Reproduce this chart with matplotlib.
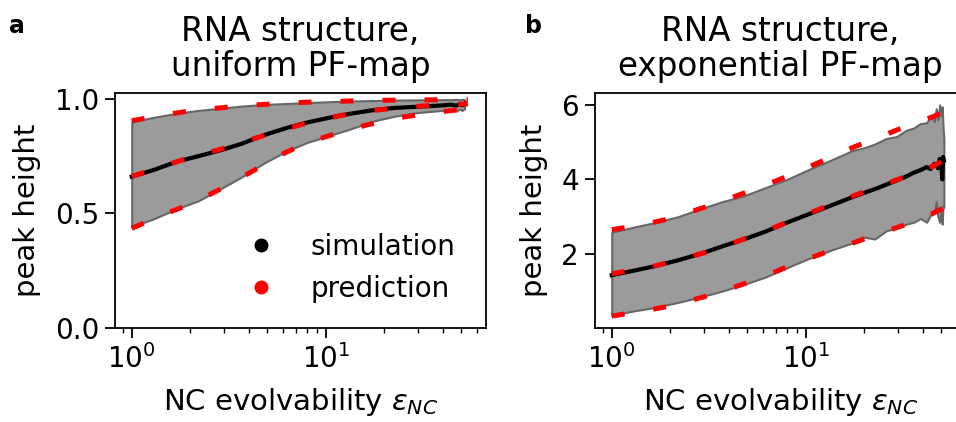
import numpy as np
import matplotlib.pyplot as plt
from matplotlib.lines import Line2D

# ---- panel a: uniform PF-map ----
x_sim_a = [1, 1.3, 1.7, 2.2, 2.9, 3.7, 4.8, 6.2, 8, 10.4, 13.5, 17.5, 22.7,
           29.4, 35, 40, 44, 47, 49, 50.5, 52]
mean_sim_a = [0.661, 0.690, 0.726, 0.750, 0.777, 0.805, 0.842, 0.872, 0.897,
              0.918, 0.936, 0.951, 0.961, 0.966, 0.969, 0.972, 0.975, 0.971,
              0.976, 0.972, 0.979]
upper_sim_a = [0.900, 0.920, 0.937, 0.950, 0.960, 0.969, 0.976, 0.980, 0.984,
               0.988, 0.991, 0.993, 0.995, 0.996, 0.996, 0.997, 0.997, 0.998,
               0.996, 0.998, 0.997]
lower_sim_a = [0.442, 0.477, 0.520, 0.555, 0.610, 0.660, 0.720, 0.770, 0.810,
               0.840, 0.870, 0.903, 0.925, 0.940, 0.946, 0.950, 0.954, 0.948,
               0.955, 0.950, 0.958]

x_pred_a = [1, 1.5, 2, 3, 4, 6, 8, 12, 16, 24, 32, 45, 54]
mean_pred_a = [0.662, 0.710, 0.745, 0.785, 0.820, 0.865, 0.895, 0.928, 0.946,
               0.962, 0.970, 0.976, 0.978]
upper_pred_a = [0.905, 0.932, 0.948, 0.963, 0.972, 0.981, 0.986, 0.990, 0.993,
                0.995, 0.996, 0.997, 0.997]
lower_pred_a = [0.435, 0.500, 0.540, 0.615, 0.675, 0.760, 0.810, 0.855, 0.885,
                0.918, 0.935, 0.950, 0.955]

# ---- panel b: exponential PF-map ----
x_sim_b = [1, 1.3, 1.7, 2.2, 2.9, 3.7, 4.8, 6.2, 8, 10.4, 13.5, 17.5, 20, 22.7,
           26, 29.4, 33, 36, 39, 42, 44, 46, 47, 48, 49, 50, 50.5, 51, 51.5]
mean_sim_b = [1.43, 1.55, 1.68, 1.83, 2.01, 2.20, 2.39, 2.60, 2.84, 3.07, 3.30,
              3.53, 3.64, 3.74, 3.86, 3.97, 4.08, 4.18, 4.25, 4.33, 4.28, 4.42,
              4.40, 4.30, 4.55, 4.45, 4.00, 4.60, 4.50]
upper_sim_b = [2.58, 2.72, 2.85, 3.00, 3.22, 3.40, 3.56, 3.78, 4.00, 4.27, 4.52,
               4.78, 4.85, 4.95, 5.10, 5.15, 5.32, 5.38, 5.50, 5.52, 5.70, 5.55,
               5.90, 5.60, 6.00, 5.70, 5.95, 5.40, 5.10]
lower_sim_b = [0.35, 0.47, 0.57, 0.70, 0.85, 1.00, 1.18, 1.38, 1.63, 1.88, 2.10,
               2.30, 2.45, 2.40, 2.62, 2.70, 2.80, 2.85, 2.95, 2.85, 3.05, 3.10,
               3.40, 3.00, 2.85, 3.20, 2.80, 3.30, 3.25]

x_pred_b = [1, 1.5, 2, 3, 4, 6, 8, 12, 16, 24, 32, 45, 52]
mean_pred_b = [1.47, 1.62, 1.78, 2.03, 2.25, 2.58, 2.85, 3.22, 3.48, 3.82, 4.06,
               4.35, 4.52]
upper_pred_b = [2.65, 2.80, 2.95, 3.25, 3.48, 3.82, 4.08, 4.48, 4.78, 5.14, 5.40,
                5.68, 5.82]
lower_pred_b = [0.33, 0.48, 0.60, 0.85, 1.05, 1.38, 1.65, 2.00, 2.22, 2.55, 2.77,
                3.08, 3.25]

titles = ["RNA structure,\nuniform PF-map", "RNA structure,\nexponential PF-map"]
panel_letters = ["a", "b"]

fig = plt.figure(figsize=(9.56, 4.22), dpi=100)
ax_a = fig.add_axes([0.1203, 0.2227, 0.3881, 0.5569])
ax_b = fig.add_axes([0.6224, 0.2227, 0.3881, 0.5569])

panels = [
    (ax_a, x_sim_a, mean_sim_a, lower_sim_a, upper_sim_a,
     x_pred_a, mean_pred_a, lower_pred_a, upper_pred_a),
    (ax_b, x_sim_b, mean_sim_b, lower_sim_b, upper_sim_b,
     x_pred_b, mean_pred_b, lower_pred_b, upper_pred_b),
]

for i, (ax, xs, ms, ls, us, xp, mp, lp, up) in enumerate(panels):
    # simulation band + mean
    ax.fill_between(xs, ls, us, facecolor="#9b9b9b", edgecolor="#666666",
                    linewidth=1.5, zorder=1)
    ax.plot(xs, ms, color="k", linewidth=3.0, zorder=2)
    # prediction (dashed red)
    for yp in (mp, lp, up):
        ax.plot(xp, yp, color="red", linewidth=3.6, dashes=(2.6, 5.8),
                dash_capstyle="butt", zorder=3)

    ax.set_xscale("log")
    ax.set_xlim(0.82, 67)
    ax.set_title(titles[i], fontsize=23.5, pad=12, linespacing=1.1)
    ax.set_xlabel(r"NC evolvability $\varepsilon_{NC}$", fontsize=21, labelpad=9)
    ax.set_ylabel("peak height", fontsize=21, labelpad=10)
    ax.tick_params(axis="both", which="major", labelsize=20, length=7,
                   width=1.3, pad=4.5)
    ax.tick_params(axis="x", which="minor", length=3.8, width=1.0)
    for sp in ax.spines.values():
        sp.set_linewidth(1.3)

ax_a.set_ylim(0, 1.026)
ax_a.set_yticks([0.0, 0.5, 1.0])
ax_b.set_ylim(0.01, 6.32)
ax_b.set_yticks([2, 4, 6])

handles = [
    Line2D([], [], marker="o", linestyle="", color="k", markersize=9),
    Line2D([], [], marker="o", linestyle="", color="red", markersize=9),
]
ax_a.legend(handles, ["simulation", "prediction"], loc="lower right",
            fontsize=20, frameon=False, bbox_to_anchor=(0.985, 0.0))

fig.text(0.009, 1 - 33 / 422, panel_letters[0], fontsize=17, fontweight="bold")
fig.text(0.549, 1 - 33 / 422, panel_letters[1], fontsize=17, fontweight="bold")

fig.savefig("out.png", dpi=100)
